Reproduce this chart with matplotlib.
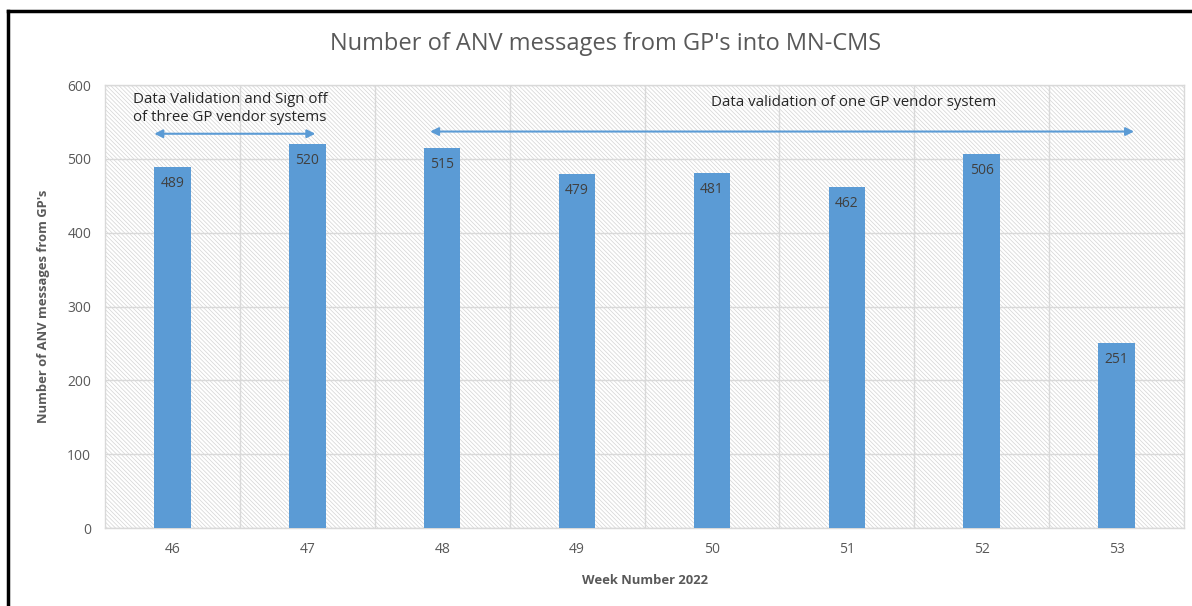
import matplotlib.pyplot as plt
from matplotlib.patches import Rectangle
from matplotlib.lines import Line2D

weeks = ['46', '47', '48', '49', '50', '51', '52', '53']
messages = [489, 520, 515, 479, 481, 462, 506, 251]

note_left = 'Data Validation and Sign off\nof three GP vendor systems'
note_right = 'Data validation of one GP vendor system'

plt.rcParams['font.family'] = ['Open Sans', 'DejaVu Sans']
plt.rcParams['hatch.linewidth'] = 0.5
grey = '#595959'

fig = plt.figure(figsize=(11.92, 6.06), dpi=100)
ax = fig.add_axes([0.0881, 0.1287, 0.9052, 0.731])

# hatched plot area background
ax.add_patch(Rectangle((0, 0), 1, 1, transform=ax.transAxes, facecolor='white',
                       edgecolor='#d4d4d4', hatch='\\' * 8, lw=0, zorder=0))

x = list(range(len(weeks)))
bars = ax.bar(x, messages, width=0.27, color='#5b9bd5', zorder=3)
for xi, v in zip(x, messages):
    ax.text(xi, v - 12, str(v), ha='center', va='top', fontsize=10, color='#404040', zorder=4)

ax.set_xlim(-0.5, len(weeks) - 0.5)
ax.set_ylim(0, 600)
ax.set_yticks(range(0, 601, 100))
ax.set_xticks(x)
ax.set_xticklabels(weeks)
ax.set_xticks([i + 0.5 for i in x[:-1]], minor=True)
ax.grid(axis='y', which='major', color='#d9d9d9', lw=1, zorder=1)
ax.grid(axis='x', which='minor', color='#d9d9d9', lw=1, zorder=1)
ax.tick_params(which='both', length=0, labelsize=10, colors=grey, pad=10)
for s in ax.spines.values():
    s.set_color('#d9d9d9')
    s.set_linewidth(1)

ax.set_xlabel('Week Number 2022', fontsize=9.4, fontweight='bold', color=grey, labelpad=12)
ax.set_ylabel("Number of ANV messages from GP's", fontsize=9.4, fontweight='bold', color=grey, labelpad=12)
fig.text(0.508, 0.928, "Number of ANV messages from GP's into MN-CMS", ha='center', va='center',
         fontsize=17, color=grey)

# annotations
ax.text(-0.29, 568, note_left, ha='left', va='center', fontsize=10.8, color='#262626',
        linespacing=1.25, zorder=5)
ax.annotate('', xy=(-0.155, 534), xytext=(1.08, 534),
            arrowprops=dict(arrowstyle='<|-|>', color='#5b9bd5', lw=1.5, mutation_scale=12), zorder=5)
ax.text(5.05, 577, note_right, ha='center', va='center', fontsize=10.8, color='#262626', zorder=5)
ax.annotate('', xy=(1.89, 537), xytext=(7.15, 537),
            arrowprops=dict(arrowstyle='<|-|>', color='#5b9bd5', lw=1.5, mutation_scale=12), zorder=5)

# black frame on top and left
fig.add_artist(Line2D([8 / 1192, 1], [1 - 11 / 606, 1 - 11 / 606], color='black', lw=2.5,
                      transform=fig.transFigure))
fig.add_artist(Line2D([8 / 1192, 8 / 1192], [0, 1 - 11 / 606], color='black', lw=2.5,
                      transform=fig.transFigure))

fig.savefig('out.png', dpi=100)
